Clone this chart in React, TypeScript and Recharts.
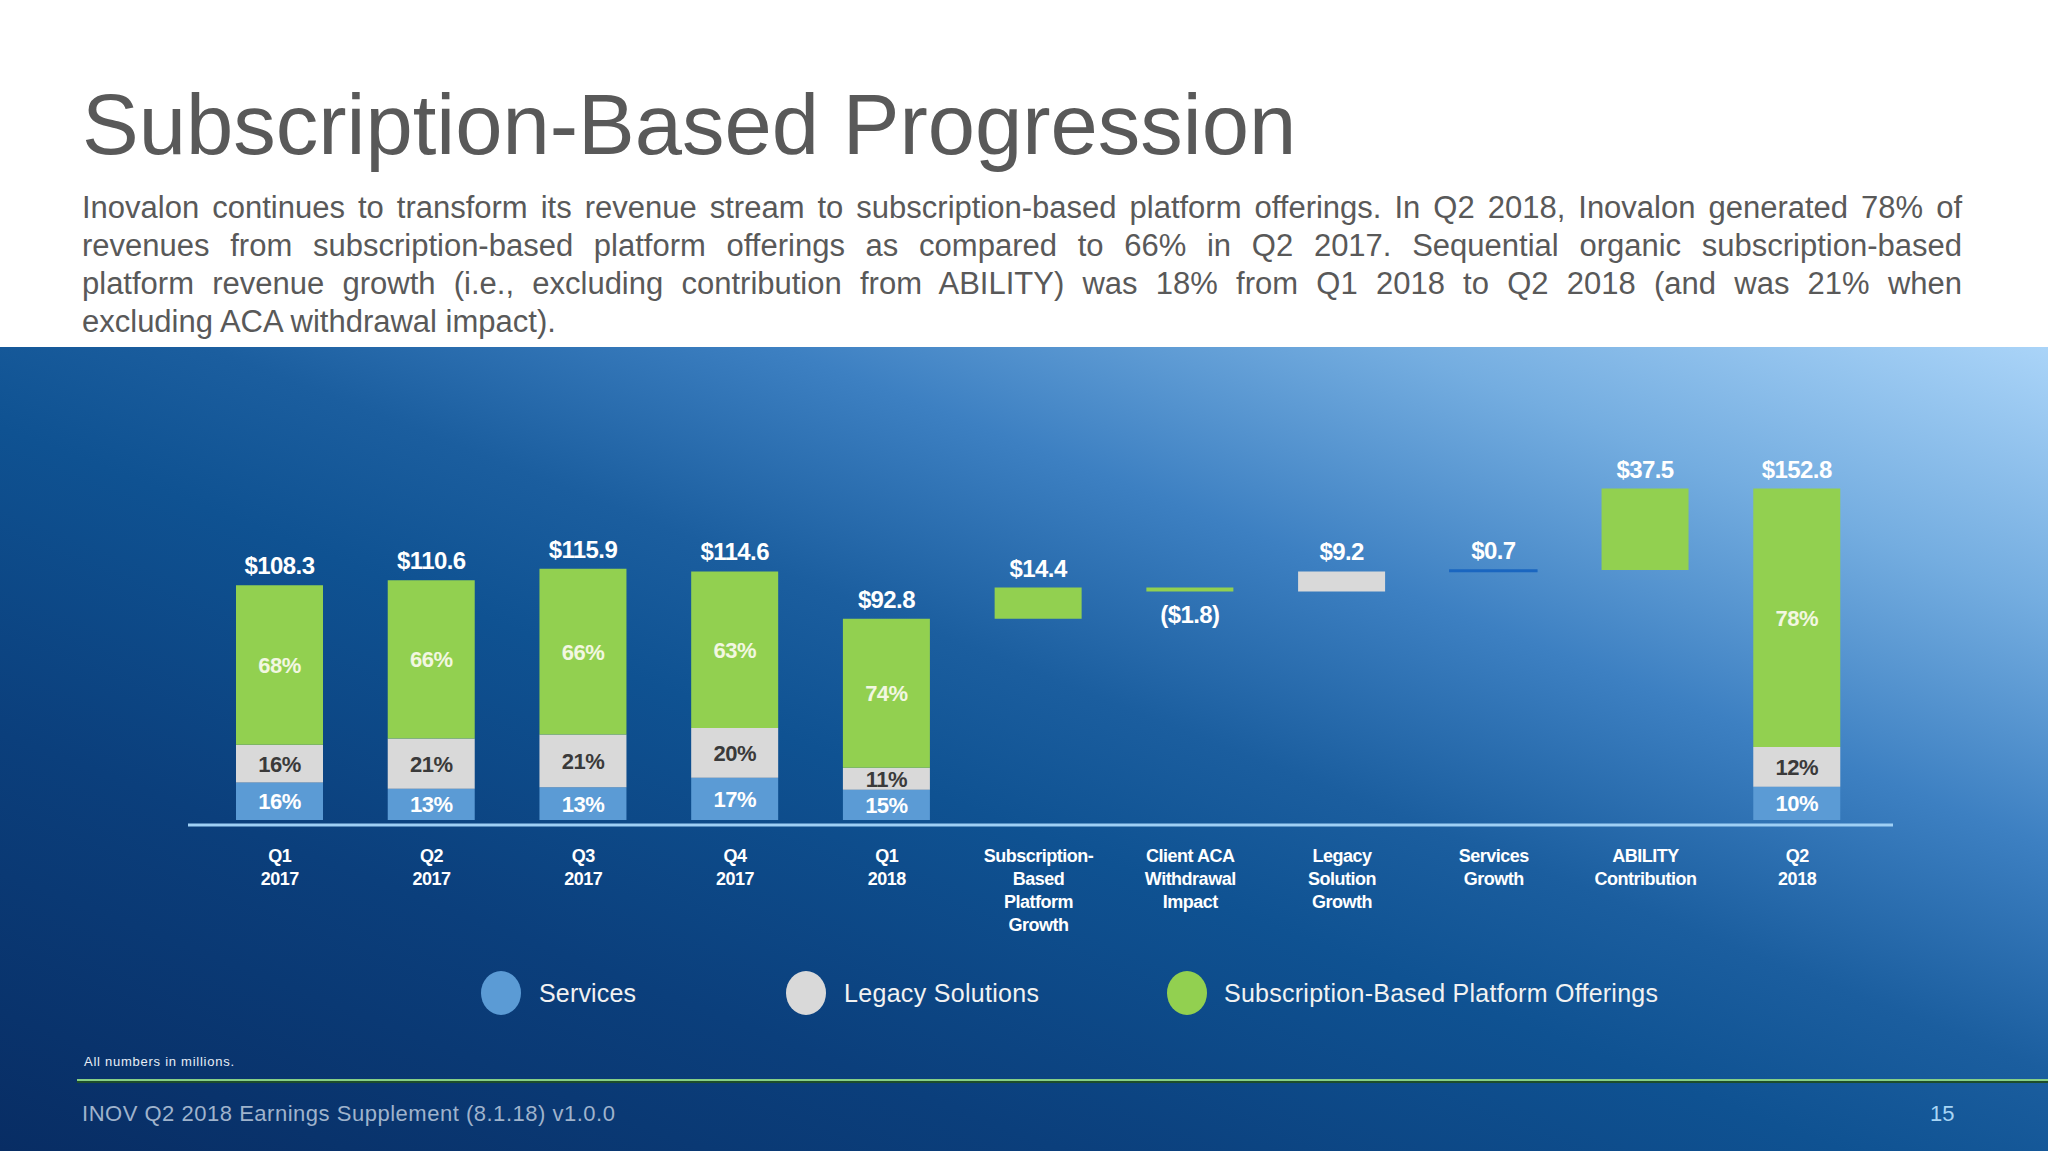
import React from "react";
import { BarChart, Bar, XAxis, YAxis, LabelList, Cell } from "recharts";

// quarter columns (full bars)
const quarterNames = ["Q1\n2017", "Q2\n2017", "Q3\n2017", "Q4\n2017", "Q1\n2018"];
const quarterTotals = [108.3, 110.6, 115.9, 114.6, 92.8];
const servicesPct = [16, 13, 13, 17, 15];
const legacyPct = [16, 21, 21, 20, 11];
const subscriptionPct = [68, 66, 66, 63, 74];

// bridge steps from Q1 2018 to Q2 2018
const stepNames = [
  "Subscription-\nBased\nPlatform\nGrowth",
  "Client ACA\nWithdrawal\nImpact",
  "Legacy\nSolution\nGrowth",
  "Services\nGrowth",
  "ABILITY\nContribution",
];
const stepValues = [14.4, -1.8, 9.2, 0.7, 37.5];
const stepSegments = ["subscription", "subscription", "legacy", "services", "subscription"];

// end column
const endName = "Q2\n2018";
const endTotal = 152.8;
const endPct = { services: 10, legacy: 12, subscription: 78 };

const GREEN = "#92d050";
const GREY = "#d9d9d9";
const BLUE = "#5b9bd5";
const STEP_BLUE = "#1a66c0";
const FONT = "'Liberation Sans', Arial, sans-serif";

type SegKey = "services" | "legacy" | "subscription";

type Row = {
  name: string;
  kind: "total" | "step";
  base: number;
  services: number;
  legacy: number;
  subscription: number;
  top: string;
  topKey: SegKey;
  below?: boolean;
  pct?: Record<SegKey, number>;
};

const money = (v: number) => (v < 0 ? `($${Math.abs(v).toFixed(1)})` : `$${v.toFixed(1)}`);

const totalRow = (name: string, t: number, p: Record<SegKey, number>): Row => ({
  name,
  kind: "total",
  base: 0,
  services: (t * p.services) / 100,
  legacy: (t * p.legacy) / 100,
  subscription: (t * p.subscription) / 100,
  top: money(t),
  topKey: "subscription",
  pct: p,
});

const rows: Row[] = quarterNames.map((n, i) =>
  totalRow(n, quarterTotals[i], {
    services: servicesPct[i],
    legacy: legacyPct[i],
    subscription: subscriptionPct[i],
  })
);

let running = quarterTotals[quarterTotals.length - 1];
stepNames.forEach((n, i) => {
  const v = stepValues[i];
  const key = stepSegments[i] as SegKey;
  const r: Row = {
    name: n,
    kind: "step",
    base: v >= 0 ? running : running + v,
    services: 0,
    legacy: 0,
    subscription: 0,
    top: money(v),
    topKey: key,
    below: v < 0,
  };
  r[key] = Math.abs(v);
  running += v;
  rows.push(r);
});
rows.push(totalRow(endName, endTotal, endPct));

const byName = (n: any) => rows.find((r) => r.name === n);

const pctColors: Record<SegKey, string> = {
  services: "#ffffff",
  legacy: "#3a3a3a",
  subscription: "#f2f7e1",
};

// one label renderer per segment: percentage inside, total above the top segment
const segLabel = (key: SegKey) => (p: any) => {
  const row = byName(p.value);
  if (!row) return null;
  const x = Number(p.x) + Number(p.width) / 2;
  const y0 = Number(p.y);
  const h = Number(p.height);
  const out: React.ReactNode[] = [];
  if (row.kind === "total" && row.pct) {
    out.push(
      <text
        key="pct"
        x={x}
        y={y0 + h / 2 + 8}
        textAnchor="middle"
        fill={pctColors[key]}
        fontFamily={FONT}
        fontWeight={700}
        fontSize={22}
        letterSpacing={-0.5}
      >
        {row.pct[key]}%
      </text>
    );
  }
  if (row.topKey === key) {
    out.push(
      <text
        key="top"
        x={x}
        y={row.below ? y0 + h + 32 : y0 - 11}
        textAnchor="middle"
        fill="#ffffff"
        fontFamily={FONT}
        fontWeight={700}
        fontSize={24}
        letterSpacing={-0.6}
      >
        {row.top}
      </text>
    );
  }
  return <g>{out}</g>;
};

const CategoryTick = (props: any) => {
  const { x, y, payload } = props;
  const lines = String(payload.value).split("\n");
  return (
    <text
      x={x}
      y={y + 37}
      textAnchor="middle"
      fill="#ffffff"
      fontFamily={FONT}
      fontWeight={700}
      fontSize={18}
      letterSpacing={-0.5}
    >
      {lines.map((l, i) => (
        <tspan key={i} x={x} dy={i === 0 ? 0 : 23}>
          {l}
        </tspan>
      ))}
    </text>
  );
};

const paragraph = [
  "Inovalon continues to transform its revenue stream to subscription-based platform offerings. In Q2 2018, Inovalon generated 78% of",
  "revenues from subscription-based platform offerings as compared to 66% in Q2 2017. Sequential organic subscription-based",
  "platform revenue growth (i.e., excluding contribution from ABILITY) was 18% from Q1 2018 to Q2 2018 (and was 21% when",
  "excluding ACA withdrawal impact).",
];

export default function App() {
  return (
    <div
      style={{
        position: "absolute",
        left: 0,
        top: 0,
        width: 2048,
        height: 1151,
        background: "#ffffff",
        overflow: "hidden",
        fontFamily: FONT,
      }}
    >
      <div
        style={{
          position: "absolute",
          left: 82,
          top: 82,
          fontSize: 85,
          lineHeight: "85px",
          color: "#595959",
          whiteSpace: "nowrap",
        }}
      >
        Subscription-Based Progression
      </div>
      {paragraph.map((line, i) => (
        <div
          key={i}
          style={{
            position: "absolute",
            left: 82,
            top: 189 + i * 38,
            width: 1880,
            fontSize: 31,
            lineHeight: "38px",
            color: "#595959",
            whiteSpace: "nowrap",
            textAlign: i < paragraph.length - 1 ? "justify" : "left",
            textAlignLast: i < paragraph.length - 1 ? "justify" : "left",
          }}
        >
          {line}
        </div>
      ))}

      <div
        style={{
          position: "absolute",
          left: 0,
          top: 347,
          width: 2048,
          height: 804,
          background:
            "linear-gradient(to bottom left, #aad4f8 0%, #74ade0 16%, #3d80c2 31%, #1b5e9f 45%, #0f5292 55%, #0b3f7c 74%, #082d64 100%)",
        }}
      >
        <BarChart
          width={2048}
          height={804}
          data={rows}
          margin={{ top: 126, right: 155, bottom: 206, left: 188 }}
          barSize={87}
        >
          <XAxis
            dataKey="name"
            interval={0}
            height={120}
            tickSize={0}
            tickMargin={0}
            tickLine={false}
            axisLine={{ stroke: "#9fd0f5", strokeWidth: 3 }}
            padding={{ left: 16, right: 20 }}
            tick={<CategoryTick />}
          />
          <YAxis hide domain={[-2.3, 160]} allowDataOverflow />
          <Bar dataKey="base" stackId="w" fill="transparent" isAnimationActive={false} />
          <Bar dataKey="services" stackId="w" fill={BLUE} isAnimationActive={false}>
            {rows.map((r, i) => (
              <Cell
                key={i}
                fill={r.kind === "step" ? STEP_BLUE : BLUE}
                stroke={r.kind === "step" ? STEP_BLUE : "none"}
                strokeWidth={r.kind === "step" ? 1.5 : 0}
              />
            ))}
            <LabelList dataKey="name" content={segLabel("services")} />
          </Bar>
          <Bar dataKey="legacy" stackId="w" fill={GREY} isAnimationActive={false}>
            <LabelList dataKey="name" content={segLabel("legacy")} />
          </Bar>
          <Bar dataKey="subscription" stackId="w" fill={GREEN} isAnimationActive={false}>
            <LabelList dataKey="name" content={segLabel("subscription")} />
          </Bar>
        </BarChart>
      </div>

      <svg
        width={2048}
        height={1151}
        style={{ position: "absolute", left: 0, top: 0, pointerEvents: "none" }}
      >
        <ellipse cx={501} cy={993} rx={20} ry={22} fill={BLUE} />
        <text x={539} y={1002} fill="#f2f2f2" fontFamily={FONT} fontSize={25} textLength={97}>
          Services
        </text>
        <ellipse cx={806} cy={993} rx={20} ry={22} fill={GREY} />
        <text x={844} y={1002} fill="#f2f2f2" fontFamily={FONT} fontSize={25} textLength={195}>
          Legacy Solutions
        </text>
        <ellipse cx={1187} cy={993} rx={20} ry={22} fill={GREEN} />
        <text x={1224} y={1002} fill="#f2f2f2" fontFamily={FONT} fontSize={25} textLength={434}>
          Subscription-Based Platform Offerings
        </text>

        <text x={84} y={1066} fill="#e8eef6" fontFamily={FONT} fontSize={13} textLength={150}>
          All numbers in millions.
        </text>
        <line x1={77} y1={1081} x2={2048} y2={1081} stroke="#1d4d2a" strokeWidth={4} />
        <line x1={77} y1={1080} x2={2048} y2={1080} stroke="#86cf86" strokeWidth={2} />

        <text x={82} y={1121} fill="#9fb3cc" fontFamily={FONT} fontSize={22} textLength={533}>
          INOV Q2 2018 Earnings Supplement (8.1.18) v1.0.0
        </text>
        <text x={1930} y={1121} fill="#a8d5f5" fontFamily={FONT} fontSize={22}>
          15
        </text>
      </svg>
    </div>
  );
}
